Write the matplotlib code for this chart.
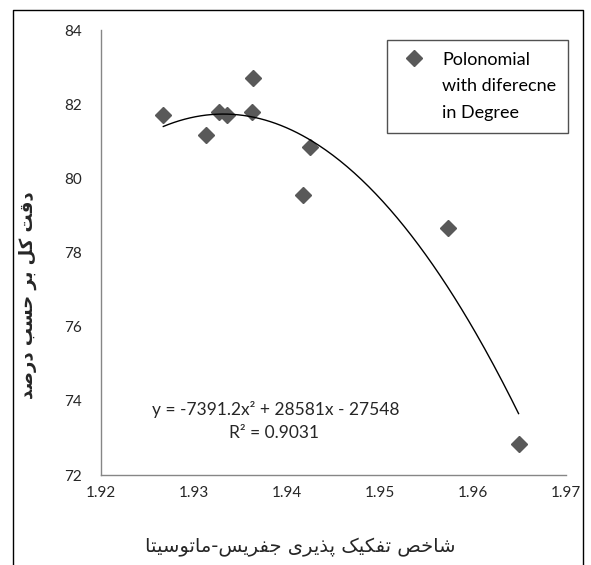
import numpy as np
import matplotlib.pyplot as plt
from matplotlib.lines import Line2D

# داده ها
jm_index = [1.9267, 1.9313, 1.9327, 1.9335, 1.9362, 1.9363, 1.9425, 1.9417, 1.9573, 1.9649]
accuracy = [81.71, 81.17, 81.79, 81.71, 81.79, 82.71, 80.85, 79.55, 78.66, 72.84]
x_ticks = [1.92, 1.93, 1.94, 1.95, 1.96, 1.97]
y_ticks = [72, 74, 76, 78, 80, 82, 84]
legend_lines = ["Polonomial", "with diferecne", "in Degree"]
equation = "y = -7391.2x² + 28581x - 27548"
r2_text = "R² = 0.9031"
x_title = "شاخص تفکیک پذیری جفریس-ماتوسیتا"
y_title = "دقت کل بر حسب درصد"

# شکل دادن حروف فارسی (matplotlib خودش این کار را نمی کند)
forms = {
    'ا': ('\uFE8D', '\uFE8E', None, None),
    'ب': ('\uFE8F', '\uFE90', '\uFE91', '\uFE92'),
    'ت': ('\uFE95', '\uFE96', '\uFE97', '\uFE98'),
    'ج': ('\uFE9D', '\uFE9E', '\uFE9F', '\uFEA0'),
    'ح': ('\uFEA1', '\uFEA2', '\uFEA3', '\uFEA4'),
    'خ': ('\uFEA5', '\uFEA6', '\uFEA7', '\uFEA8'),
    'د': ('\uFEA9', '\uFEAA', None, None),
    'ذ': ('\uFEAB', '\uFEAC', None, None),
    'ر': ('\uFEAD', '\uFEAE', None, None),
    'ز': ('\uFEAF', '\uFEB0', None, None),
    'س': ('\uFEB1', '\uFEB2', '\uFEB3', '\uFEB4'),
    'ش': ('\uFEB5', '\uFEB6', '\uFEB7', '\uFEB8'),
    'ص': ('\uFEB9', '\uFEBA', '\uFEBB', '\uFEBC'),
    'ف': ('\uFED1', '\uFED2', '\uFED3', '\uFED4'),
    'ق': ('\uFED5', '\uFED6', '\uFED7', '\uFED8'),
    'ل': ('\uFEDD', '\uFEDE', '\uFEDF', '\uFEE0'),
    'م': ('\uFEE1', '\uFEE2', '\uFEE3', '\uFEE4'),
    'ن': ('\uFEE5', '\uFEE6', '\uFEE7', '\uFEE8'),
    'و': ('\uFEED', '\uFEEE', None, None),
    'پ': ('\uFB56', '\uFB57', '\uFB58', '\uFB59'),
    'ک': ('\uFB8E', '\uFB8F', '\uFB90', '\uFB91'),
    'ی': ('\uFBFC', '\uFBFD', '\uFBFE', '\uFBFF'),
}


def shape(text):
    out = []
    for i, ch in enumerate(text):
        if ch not in forms:
            out.append(ch)
            continue
        prev = text[i - 1] if i > 0 else ''
        nxt = text[i + 1] if i + 1 < len(text) else ''
        join_prev = prev in forms and forms[prev][2] is not None
        join_next = nxt in forms and forms[ch][2] is not None
        iso, fin, ini, med = forms[ch]
        if join_prev and join_next:
            out.append(med)
        elif join_prev:
            out.append(fin)
        elif join_next:
            out.append(ini)
        else:
            out.append(iso)
    return ''.join(out)[::-1]


plt.rcParams['font.family'] = ['Lato', 'DejaVu Sans']

fig = plt.figure(figsize=(5.91, 5.65), dpi=100)
ax = fig.add_axes([101 / 591, 1 - 475 / 565, 465 / 591, 445 / 565])

pts, = ax.plot(jm_index, accuracy, linestyle='none', marker='D', markersize=8,
               color='#595959')

# خط روند درجه دو
coef = np.polyfit(jm_index, accuracy, 2)
xs = np.linspace(min(jm_index), max(jm_index), 200)
ax.plot(xs, np.polyval(coef, xs), color='black', linewidth=1)

ax.set_xlim(1.92, 1.97)
ax.set_ylim(72, 84)
ax.set_xticks(x_ticks)
ax.set_xticklabels([f'{v:.2f}' for v in x_ticks])
ax.set_yticks(y_ticks)
ax.tick_params(axis='both', length=0, labelsize=11, colors='#262626')
ax.tick_params(axis='y', pad=14)
ax.tick_params(axis='x', pad=8)
for s in ['top', 'right']:
    ax.spines[s].set_visible(False)
for s in ['left', 'bottom']:
    ax.spines[s].set_color('#868686')
    ax.spines[s].set_linewidth(1)

ax.text(276 / 591, 1 - 409 / 565, equation, transform=fig.transFigure,
        ha='center', va='center', fontsize=12.5, color='#262626')
ax.text(274 / 591, 1 - 433 / 565, r2_text, transform=fig.transFigure,
        ha='center', va='center', fontsize=12.5, color='#262626')

# راهنما: نشانه فقط کنار سطر اول
blank = Line2D([], [], linestyle='none')
leg = ax.legend([pts, blank, blank], legend_lines, loc='upper right',
                bbox_to_anchor=(568 / 591, 1 - 40 / 565),
                bbox_transform=fig.transFigure, fontsize=13, frameon=True,
                fancybox=False, borderpad=0.65, handletextpad=0.7,
                handlelength=1.7, labelspacing=0.59, borderaxespad=0)
leg.get_frame().set_edgecolor('#262626')
leg.get_frame().set_linewidth(1)

fig.text(300 / 591, 1 - 547 / 565, shape(x_title), ha='center', va='center',
         fontsize=14, family='DejaVu Sans', color='#262626')
fig.text(28 / 591, 1 - 295 / 565, shape(y_title), ha='center', va='center',
         rotation=90, fontsize=13, fontweight='bold', family='DejaVu Sans',
         color='#262626')

# قاب دور نمودار
fig.add_artist(Line2D([13 / 591, 13 / 591, 583 / 591, 583 / 591],
                      [0, 1 - 10 / 565, 1 - 10 / 565, 0],
                      transform=fig.transFigure, color='black', linewidth=1))

fig.savefig('out.png', dpi=100)
